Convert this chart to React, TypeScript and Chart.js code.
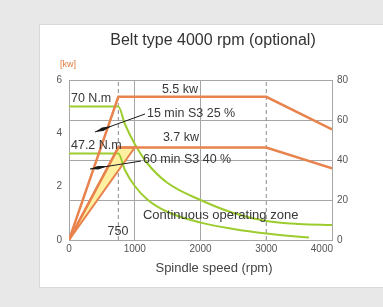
import { useEffect, useRef } from "react";
import { Chart, registerables } from "chart.js";

Chart.register(...registerables);

// Axis ranges / ticks
const speedTicks = [0, 1000, 2000, 3000, 4000];
const powerMax = 6;
const powerStep = 2;
const torqueMax = 80;
const torqueStep = 20;

// Power curves (kW, left axis)
const power15Rpm = [0, 750, 3000, 4000];
const power15Kw = [0, 5.37, 5.37, 4.15];
const power60Rpm = [0, 750, 3000, 4000];
const power60Kw = [0, 3.47, 3.47, 2.69];
const zoneRpm = [0, 1000, 750, 0];
const zoneKw = [0, 3.47, 3.47, 0];

// Torque curves (N.m, right axis)
const torque15Rpm = [0, 750, 850, 1000, 1200, 1500, 2000, 2500, 3000, 3500, 4000];
const torque15Nm = [66.7, 66.7, 58, 48, 38, 28.5, 20, 13.5, 9.5, 8, 7.5];
const torque60Rpm = [0, 750, 850, 1000, 1200, 1500, 2000, 2500, 3000, 3500, 3650];
const torque60Nm = [43.3, 43.3, 35, 27, 20, 14, 8.7, 5.5, 3.2, 1.6, 1.3];

// Dashed reference speeds
const markerRpm = [750, 3000];

// Text notes anchored in data units (rpm, kW)
const noteText = [
  "70 N.m",
  "47.2 N.m",
  "5.5 kw",
  "3.7 kw",
  "15 min S3 25 %",
  "60 min S3 40 %",
  "Continuous operating zone",
  "750",
];
const noteRpm = [30, 30, 1688, 1703, 1186, 1125, 1125, 745];
const noteKw = [5.29, 3.54, 5.63, 3.84, 4.76, 3.0, 0.94, 0.3];
const noteAlign = ["left", "left", "center", "center", "left", "left", "left", "center"];

// Leader arrows: tip, end of thick part, tail (rpm, kW)
const arrowRpm = [
  [395, 654, 1156],
  [319, 593, 1095],
];
const arrowKw = [
  [4.05, 4.275, 4.725],
  [2.66, 2.775, 2.96],
];

const ORANGE = "#e8834e";
const GREEN = "#9ccc2e";
const GRID = "#a6a6a6";
const FONT = "'Liberation Sans', Arial, Helvetica, sans-serif";

const pts = (xs: number[], ys: number[]) => xs.map((x, i) => ({ x, y: ys[i] }));

const overlay = {
  id: "overlay",
  afterDatasetsDraw(chart: any) {
    const { ctx, chartArea } = chart;
    const xs = chart.scales.x;
    const ys = chart.scales.y;
    ctx.save();
    // arrows
    ctx.strokeStyle = "#1a1a1a";
    ctx.fillStyle = "#1a1a1a";
    for (let i = 0; i < arrowRpm.length; i++) {
      const p = arrowRpm[i].map((r, j) => [xs.getPixelForValue(r), ys.getPixelForValue(arrowKw[i][j])]);
      ctx.lineWidth = 1;
      ctx.beginPath();
      ctx.moveTo(p[0][0], p[0][1]);
      ctx.lineTo(p[2][0], p[2][1]);
      ctx.stroke();
      const dx = p[1][0] - p[0][0];
      const dy = p[1][1] - p[0][1];
      const len = Math.hypot(dx, dy);
      const nx = -dy / len;
      const ny = dx / len;
      ctx.beginPath();
      ctx.moveTo(p[0][0], p[0][1]);
      ctx.lineTo(p[0][0] + dx * 0.45 + nx * 1.8, p[0][1] + dy * 0.45 + ny * 1.8);
      ctx.lineTo(p[1][0], p[1][1]);
      ctx.lineTo(p[0][0] + dx * 0.45 - nx * 1.8, p[0][1] + dy * 0.45 - ny * 1.8);
      ctx.closePath();
      ctx.fill();
    }
    // notes
    ctx.fillStyle = "#383838";
    ctx.textBaseline = "middle";
    noteText.forEach((t, i) => {
      ctx.font = `${i === 6 ? 13 : 12.5}px ${FONT}`;
      ctx.textAlign = noteAlign[i];
      ctx.fillText(t, xs.getPixelForValue(noteRpm[i]), ys.getPixelForValue(noteKw[i]));
    });
    // x tick labels (last one kept inside the frame)
    ctx.font = `10px ${FONT}`;
    ctx.fillStyle = "#555";
    ctx.textBaseline = "top";
    speedTicks.forEach((v, i) => {
      const last = i === speedTicks.length - 1;
      ctx.textAlign = last ? "right" : "center";
      const px = xs.getPixelForValue(v);
      ctx.fillText(String(v), last ? px + 1 : px, chartArea.bottom + 4);
    });
    // title
    ctx.textBaseline = "middle";
    ctx.textAlign = "center";
    ctx.font = `16px ${FONT}`;
    ctx.fillStyle = "#333";
    ctx.fillText("Belt type 4000 rpm (optional)", 213, 41);
    // x axis title
    ctx.font = `13px ${FONT}`;
    ctx.fillStyle = "#444";
    ctx.fillText("Spindle speed (rpm)", 214, 268);
    // unit
    ctx.textAlign = "left";
    ctx.font = `9px ${FONT}`;
    ctx.fillStyle = "#e07a3e";
    ctx.fillText("[kw]", 60, 65);
    ctx.restore();
  },
};

export default function App() {
  const ref = useRef<HTMLCanvasElement | null>(null);

  useEffect(() => {
    if (!ref.current) return;
    const lineBase = {
      pointRadius: 0,
      fill: false,
      tension: 0,
    };
    const datasets: any[] = [
      ...markerRpm.map((r) => ({
        ...lineBase,
        data: [
          { x: r, y: 0 },
          { x: r, y: powerMax },
        ],
        yAxisID: "y",
        borderColor: "#8a8a8a",
        borderWidth: 1,
        borderDash: [4, 3],
        order: 10,
      })),
      {
        ...lineBase,
        data: pts(zoneRpm, zoneKw),
        yAxisID: "y",
        borderColor: ORANGE,
        borderWidth: 2,
        backgroundColor: "#fdf0a0",
        fill: "shape",
        order: 9,
      },
      {
        ...lineBase,
        data: pts(torque15Rpm, torque15Nm),
        yAxisID: "y1",
        borderColor: GREEN,
        borderWidth: 2,
        cubicInterpolationMode: "monotone",
        order: 5,
      },
      {
        ...lineBase,
        data: pts(torque60Rpm, torque60Nm),
        yAxisID: "y1",
        borderColor: GREEN,
        borderWidth: 2,
        cubicInterpolationMode: "monotone",
        order: 5,
      },
      {
        ...lineBase,
        data: pts(power15Rpm, power15Kw),
        yAxisID: "y",
        borderColor: ORANGE,
        borderWidth: 2.5,
        order: 1,
      },
      {
        ...lineBase,
        data: pts(power60Rpm, power60Kw),
        yAxisID: "y",
        borderColor: ORANGE,
        borderWidth: 2.5,
        order: 1,
      },
    ];

    const chart = new Chart(ref.current, {
      type: "line",
      data: { datasets },
      options: {
        animation: false,
        responsive: false,
        events: [],
        layout: { padding: { top: 80, left: 0, right: 0, bottom: 0 } },
        plugins: { legend: { display: false }, tooltip: { enabled: false }, title: { display: false } },
        scales: {
          x: {
            type: "linear",
            position: "bottom",
            min: speedTicks[0],
            max: speedTicks[speedTicks.length - 1],
            afterFit: (s: any) => {
              s.height = 67;
            },
            afterBuildTicks: (s: any) => {
              s.ticks = speedTicks.map((v) => ({ value: v }));
            },
            ticks: { display: false },
            grid: {
              color: (c: any) => (c.tick && c.tick.value === 3000 ? "rgba(0,0,0,0)" : GRID),
              drawTicks: false,
              tickLength: 0,
            },
            border: { display: true, color: GRID },
          },
          y: {
            type: "linear",
            position: "left",
            min: 0,
            max: powerMax,
            afterFit: (s: any) => {
              s.width = 69;
            },
            ticks: {
              stepSize: powerStep,
              color: "#555",
              font: { size: 10, family: FONT },
              padding: 7,
            },
            grid: { drawOnChartArea: false, drawTicks: false, tickLength: 0 },
            border: { display: true, color: GRID },
          },
          y1: {
            type: "linear",
            position: "right",
            min: 0,
            max: torqueMax,
            afterFit: (s: any) => {
              s.width = 51;
            },
            ticks: {
              stepSize: torqueStep,
              color: "#555",
              font: { size: 10, family: FONT },
              padding: 5,
            },
            grid: { color: GRID, drawTicks: false, tickLength: 0 },
            border: { display: true, color: GRID },
          },
        },
      },
      plugins: [overlay],
    });
    return () => chart.destroy();
  }, []);

  return (
    <div
      style={{
        position: "fixed",
        left: 0,
        top: 0,
        width: 383,
        height: 307,
        background: "#e8e8e8",
        overflow: "hidden",
      }}
    >
      <div
        style={{
          position: "absolute",
          left: 39,
          top: 24,
          width: 360,
          height: 262,
          background: "#ffffff",
          border: "1px solid #d9d9d9",
        }}
      />
      <canvas
        ref={ref}
        width={383}
        height={307}
        style={{ position: "absolute", left: 0, top: 0, width: 383, height: 307 }}
      />
    </div>
  );
}
